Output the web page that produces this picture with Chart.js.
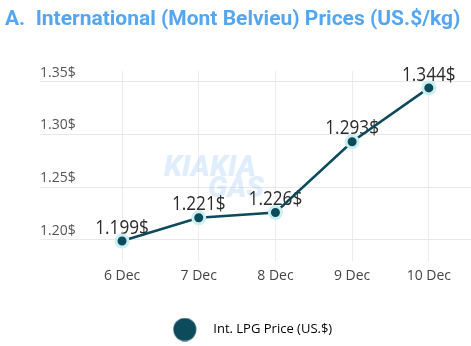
<!DOCTYPE html>
<html>
<head>
<meta charset="utf-8">
<script src="https://cdn.jsdelivr.net/npm/chart.js@4/dist/chart.umd.min.js"></script>
<style>
  html, body { margin: 0; padding: 0; background: #fff; }
  #wrap { position: relative; width: 471px; height: 346px; }
  #priceChart { display: block; }
  #title {
    position: absolute; left: 5px; top: 6px; white-space: pre;
    font: bold 21px Roboto, sans-serif; color: #55a6f0;
  }
</style>
</head>
<body>
<div id="wrap">
  <canvas id="priceChart" width="471" height="346"></canvas>
  <div id="title">A.  International (Mont Belvieu) Prices (US.$/kg)</div>
</div>
<script>
const days = ['6 Dec', '7 Dec', '8 Dec', '9 Dec', '10 Dec'];
const prices = [1.199, 1.221, 1.226, 1.293, 1.344];
const yTicks = [1.20, 1.25, 1.30, 1.35];
const seriesName = 'Int. LPG Price (US.$)';

const lineColor = '#0d4a5b';

// legend dot: bigger than a font-sized box, sitting left inside its image
const dot = document.createElement('canvas');
dot.width = 40; dot.height = 24;
const dctx = dot.getContext('2d');
dctx.fillStyle = lineColor;
dctx.beginPath();
dctx.arc(12, 12, 11.5, 0, Math.PI * 2);
dctx.fill();

const labelsPlugin = {
    id: 'valueLabels',
    beforeDatasetsDraw(chart) {
        const ctx = chart.ctx;
        ctx.save();
        ctx.textAlign = 'center';
        ctx.textBaseline = 'middle';
        // faint watermark
        ctx.fillStyle = 'rgba(110, 175, 240, 0.22)';
        ctx.font = 'italic 900 29px Roboto, sans-serif';
        ctx.fillText('KIAKIA', 210, 169);
        ctx.fillText('GAS', 236, 190);

        // value labels, a little narrower than the font is
        const meta = chart.getDatasetMeta(0);
        ctx.fillStyle = '#2b2b2b';
        ctx.font = '20px "Open Sans", sans-serif';
        meta.data.forEach((pt, i) => {
            ctx.save();
            ctx.translate(pt.x, pt.y - 13);
            ctx.scale(0.86, 1);
            ctx.fillText(prices[i].toFixed(3) + '$', 0, 0);
            ctx.restore();
        });
        ctx.restore();
    }
};

new Chart(document.getElementById('priceChart'), {
    type: 'line',
    data: {
        datasets: [{
            label: seriesName,
            data: prices.map((v, i) => ({ x: i, y: v })),
            borderColor: lineColor,
            borderWidth: 2.5,
            tension: 0,
            pointRadius: 6,
            pointHoverRadius: 6,
            pointBackgroundColor: lineColor,
            pointBorderColor: '#c9efee',
            pointBorderWidth: 3
        }]
    },
    options: {
        responsive: false,
        animation: false,
        layout: { autoPadding: false, padding: { left: 40, right: 0, top: 71, bottom: 0 } },
        plugins: {
            tooltip: { enabled: false },
            legend: {
                position: 'bottom',
                labels: {
                    usePointStyle: true,
                    pointStyleWidth: 28,
                    padding: 8,
                    color: '#555',
                    font: { family: '"Open Sans", sans-serif', size: 13 },
                    generateLabels: () => [{
                        text: seriesName,
                        pointStyle: dot,
                        fillStyle: lineColor,
                        strokeStyle: lineColor,
                        lineWidth: 0,
                        datasetIndex: 0
                    }]
                }
            }
        },
        scales: {
            x: {
                type: 'linear',
                min: -1.07,
                max: 4.55,
                afterBuildTicks: axis => { axis.ticks = days.map((d, i) => ({ value: i })); },
                afterFit: axis => {
                    axis.height = 54;
                    axis.paddingLeft = 0;
                    axis.paddingRight = 0;
                },
                ticks: {
                    callback: v => days[v],
                    color: '#444',
                    padding: 7,
                    font: { family: '"Open Sans", sans-serif', size: 14 }
                },
                grid: { color: '#ececec', drawTicks: false },
                border: { display: false }
            },
            y: {
                min: 1.18,
                max: 1.36,
                afterBuildTicks: axis => { axis.ticks = yTicks.map(v => ({ value: v })); },
                ticks: {
                    mirror: true,
                    padding: 0,
                    labelOffset: -9,
                    callback: v => v.toFixed(2) + '$',
                    color: '#555',
                    font: { family: '"Open Sans", sans-serif', size: 14 }
                },
                grid: { color: '#e8e8e8', drawTicks: false },
                border: { display: false }
            }
        }
    },
    plugins: [labelsPlugin]
});
</script>
</body>
</html>
